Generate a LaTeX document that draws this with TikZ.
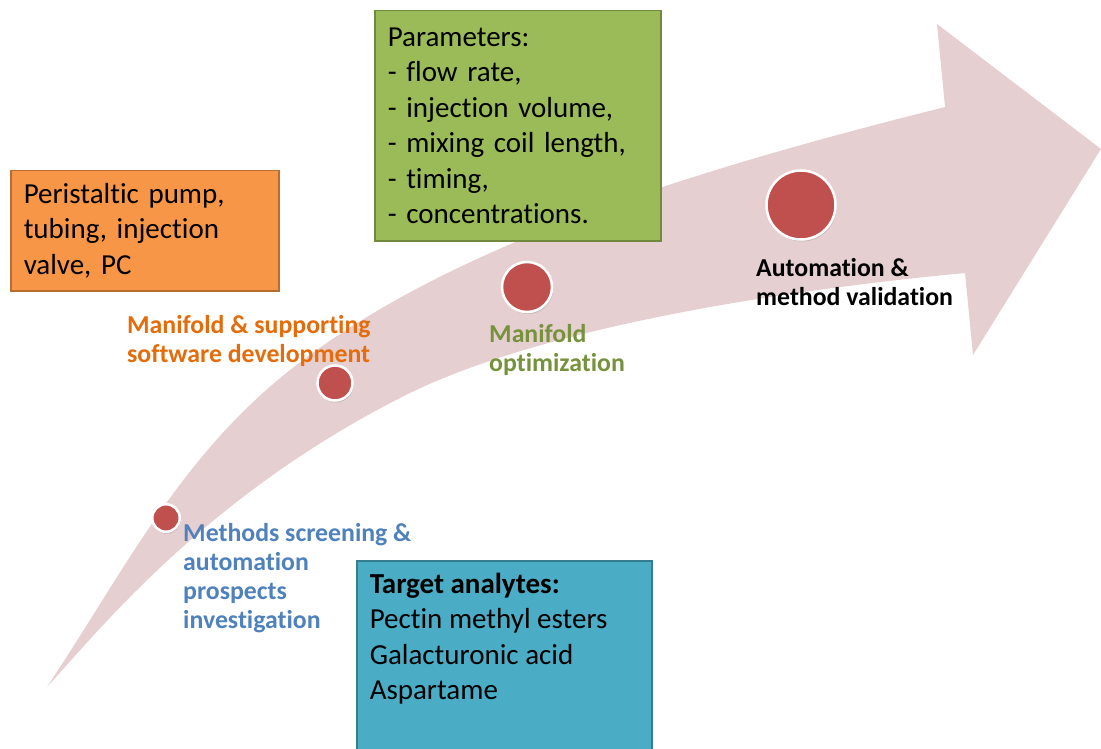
\documentclass[tikz,border=0pt]{standalone}
\usepackage{fontspec}
\setmainfont{Carlito}[Ligatures=NoCommon, Contextuals=NoAlternate]
\usetikzlibrary{shadows}
\definecolor{arrowpink}{RGB}{230,207,209}
\definecolor{dotred}{RGB}{192,80,77}
\definecolor{pumporange}{RGB}{247,150,70}
\definecolor{pumpedge}{RGB}{182,109,49}
\definecolor{paramgreen}{RGB}{155,187,89}
\definecolor{paramedge}{RGB}{113,137,63}
\definecolor{targetblue}{RGB}{75,172,198}
\definecolor{targetedge}{RGB}{53,125,145}
\definecolor{lblorange}{RGB}{228,108,10}
\definecolor{lblgreen}{RGB}{118,146,60}
\definecolor{lblblue}{RGB}{79,129,189}

\begin{document}
\begin{tikzpicture}[x=1pt, y=-1pt,
    boxtext/.style={font=\fontsize{29}{35.5}\selectfont, align=left, inner xsep=13pt, line width=1.5pt},
    steplabel/.style={font=\bfseries\fontsize{25.8}{29}\selectfont, align=left, inner sep=0pt, anchor=north west},
    dot/.style={circle, fill=dotred, draw=white, line width=2.5pt, inner sep=0pt,
        drop shadow={shadow xshift=1pt, shadow yshift=-2pt, opacity=0.3}}]
    \clip (0,0) rectangle (1101,749);
    % the curved arrow
    \fill [arrowpink] (47,687) .. controls (130,562) and (183,450) .. (303,360)
        .. controls (463,240) and (702,168) .. (945,107)
        -- (937,24) -- (1101,149) -- (973,355) -- (965,273)
        .. controls (766,292) and (532,330) .. (400,398)
        .. controls (206,497) and (101,628) .. (47,687) -- cycle;
    % milestones
    \node [dot, minimum size=27.5] (screen) at (166,518) {};
    \node [dot, minimum size=35] (develop) at (335,383) {};
    \node [dot, minimum size=50] (optim) at (527,287) {};
    \node [dot, minimum size=69] (valid) at (801,205) {};
    \node [steplabel, lblblue] (screentxt) at (183,523) {Methods screening \&\\automation\\prospects\\investigation};
    \node [steplabel, lblorange] (developtxt) at (127,315) {Manifold \& supporting\\software development};
    \node [steplabel, lblgreen] (optimtxt) at (489,324) {Manifold\\optimization};
    \node [steplabel, black] (validtxt) at (756,258) {Automation \&\\method validation};
    % boxes
    \node [boxtext, fill=pumporange, draw=pumpedge, anchor=north west, text width=242, minimum height=120] (pump) at (10,170) {Peristaltic pump,\\tubing, injection\\valve, PC};
    \node [boxtext, fill=paramgreen, draw=paramedge, anchor=north west, text width=260, minimum height=230] (params) at (374,10) {Parameters:\\- flow rate,\\- injection volume,\\- mixing coil length,\\- timing,\\- concentrations.};
    \node [fill=targetblue, draw=targetedge, line width=1.5pt, anchor=north west, minimum width=295, minimum height=200] (target) at (356,560) {};
    \node [boxtext, anchor=north west, inner ysep=12pt] (analytes) at (target.north west) {\textbf{Target analytes:}\\Pectin methyl esters\\Galacturonic acid\\Aspartame};
\end{tikzpicture}
\end{document}
